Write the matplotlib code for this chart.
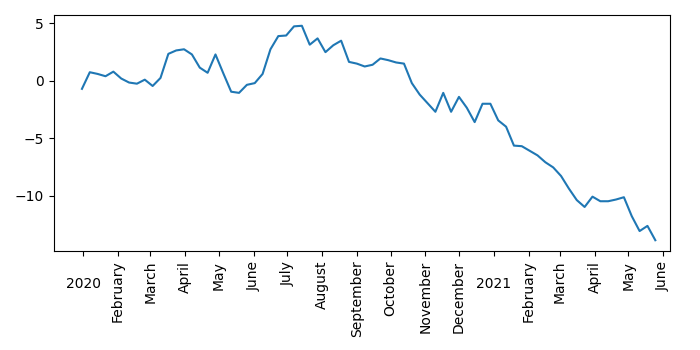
import matplotlib
matplotlib.use("Agg")
import matplotlib.pyplot as plt
import matplotlib.dates as mdates
import pandas as pd

# weekly values, starting the last day of 2019
start_date = "2019-12-31"
values = [
    -0.7, 0.75, 0.6, 0.4, 0.8, 0.2, -0.15, -0.25, 0.1, -0.45,
    0.25, 2.35, 2.65, 2.75, 2.3, 1.15, 0.7, 2.3, 0.65, -0.95,
    -1.05, -0.35, -0.2, 0.6, 2.75, 3.9, 3.95, 4.75, 4.8, 3.15,
    3.7, 2.5, 3.1, 3.5, 1.65, 1.5, 1.25, 1.4, 1.95, 1.8,
    1.6, 1.5, -0.2, -1.2, -1.95, -2.7, -1.05, -2.7, -1.4, -2.35,
    -3.6, -2.0, -2.0, -3.45, -4.0, -5.65, -5.7, -6.1, -6.5, -7.1,
    -7.55, -8.3, -9.4, -10.4, -11.0, -10.1, -10.5, -10.5, -10.35, -10.15,
    -11.8, -13.1, -12.65, -13.9,
]
dates = pd.date_range(start_date, periods=len(values), freq="7D")
x_range = (pd.Timestamp("2019-12-06"), pd.Timestamp("2021-06-07"))


def month_label(x, pos=None):
    d = mdates.num2date(x)
    if d.month == 1:
        return "\n" + str(d.year)
    return d.strftime("%B")


fig, ax = plt.subplots(figsize=(7, 3.5), dpi=100)
ax.plot(dates, values)
ax.set_xlim(*x_range)

ax.xaxis.set_major_locator(mdates.MonthLocator())
ax.xaxis.set_major_formatter(plt.FuncFormatter(month_label))

fig.canvas.draw()
for lbl in ax.get_xticklabels():
    if lbl.get_text().strip().isdigit():
        lbl.set_rotation(0)
    else:
        lbl.set_rotation(90)

fig.subplots_adjust(left=0.077, right=0.957, top=0.957, bottom=0.283)
fig.savefig("out.png")
